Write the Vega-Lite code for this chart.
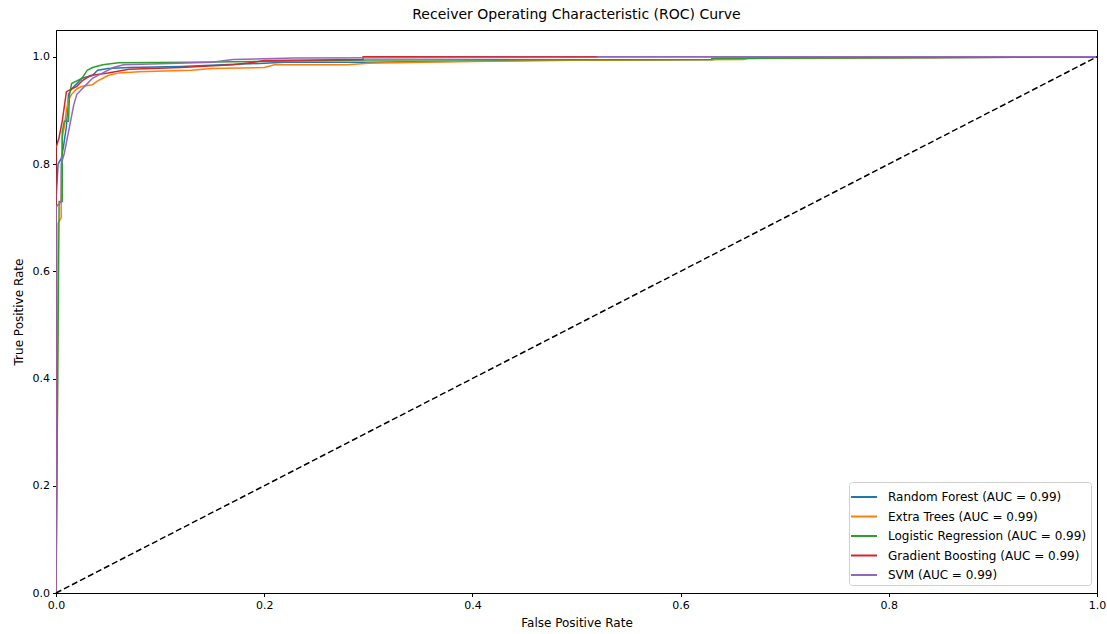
{
  "$schema": "https://vega.github.io/schema/vega-lite/v6.json",
  "width": 1041,
  "height": 563,
  "autosize": {"type": "none"},
  "padding": {"left": 56, "top": 30, "right": 10, "bottom": 41},
  "background": "white",
  "title": {"text": "Receiver Operating Characteristic (ROC) Curve", "font": "DejaVu Sans", "fontSize": 14, "fontWeight": "normal", "color": "black", "offset": 8, "anchor": "middle"},
  "config": {
    "view": {"stroke": "black", "strokeWidth": 1},
    "axis": {"domainColor": "black", "tickColor": "black", "labelColor": "black", "titleColor": "black", "labelFont": "DejaVu Sans", "titleFont": "DejaVu Sans", "labelFontSize": 11, "titleFontSize": 12, "titleFontWeight": "normal", "grid": false, "tickSize": 3.5, "labelPadding": 3, "labelFlush": false}
  },
  "datasets": {
    "roc": [
      {"model": "Random Forest (AUC = 0.99)", "i": 0, "fpr": 0, "tpr": 0},
      {"model": "Random Forest (AUC = 0.99)", "i": 1, "fpr": 0, "tpr": 0.73},
      {"model": "Random Forest (AUC = 0.99)", "i": 2, "fpr": 0.002, "tpr": 0.8},
      {"model": "Random Forest (AUC = 0.99)", "i": 3, "fpr": 0.005, "tpr": 0.81},
      {"model": "Random Forest (AUC = 0.99)", "i": 4, "fpr": 0.007, "tpr": 0.83},
      {"model": "Random Forest (AUC = 0.99)", "i": 5, "fpr": 0.01, "tpr": 0.87},
      {"model": "Random Forest (AUC = 0.99)", "i": 6, "fpr": 0.012, "tpr": 0.93},
      {"model": "Random Forest (AUC = 0.99)", "i": 7, "fpr": 0.015, "tpr": 0.94},
      {"model": "Random Forest (AUC = 0.99)", "i": 8, "fpr": 0.02, "tpr": 0.95},
      {"model": "Random Forest (AUC = 0.99)", "i": 9, "fpr": 0.025, "tpr": 0.96},
      {"model": "Random Forest (AUC = 0.99)", "i": 10, "fpr": 0.035, "tpr": 0.965},
      {"model": "Random Forest (AUC = 0.99)", "i": 11, "fpr": 0.04, "tpr": 0.975},
      {"model": "Random Forest (AUC = 0.99)", "i": 12, "fpr": 0.05, "tpr": 0.978},
      {"model": "Random Forest (AUC = 0.99)", "i": 13, "fpr": 0.07, "tpr": 0.98},
      {"model": "Random Forest (AUC = 0.99)", "i": 14, "fpr": 0.12, "tpr": 0.982},
      {"model": "Random Forest (AUC = 0.99)", "i": 15, "fpr": 0.16, "tpr": 0.985},
      {"model": "Random Forest (AUC = 0.99)", "i": 16, "fpr": 0.2, "tpr": 0.988},
      {"model": "Random Forest (AUC = 0.99)", "i": 17, "fpr": 0.22, "tpr": 0.99},
      {"model": "Random Forest (AUC = 0.99)", "i": 18, "fpr": 0.3, "tpr": 0.99},
      {"model": "Random Forest (AUC = 0.99)", "i": 19, "fpr": 0.41, "tpr": 0.992},
      {"model": "Random Forest (AUC = 0.99)", "i": 20, "fpr": 0.52, "tpr": 0.994},
      {"model": "Random Forest (AUC = 0.99)", "i": 21, "fpr": 0.632, "tpr": 0.995},
      {"model": "Random Forest (AUC = 0.99)", "i": 22, "fpr": 0.632, "tpr": 0.997},
      {"model": "Random Forest (AUC = 0.99)", "i": 23, "fpr": 1, "tpr": 1},

      {"model": "Extra Trees (AUC = 0.99)", "i": 0, "fpr": 0, "tpr": 0},
      {"model": "Extra Trees (AUC = 0.99)", "i": 1, "fpr": 0.001, "tpr": 0.2},
      {"model": "Extra Trees (AUC = 0.99)", "i": 2, "fpr": 0.002, "tpr": 0.69},
      {"model": "Extra Trees (AUC = 0.99)", "i": 3, "fpr": 0.005, "tpr": 0.7},
      {"model": "Extra Trees (AUC = 0.99)", "i": 4, "fpr": 0.005, "tpr": 0.74},
      {"model": "Extra Trees (AUC = 0.99)", "i": 5, "fpr": 0.006, "tpr": 0.85},
      {"model": "Extra Trees (AUC = 0.99)", "i": 6, "fpr": 0.008, "tpr": 0.87},
      {"model": "Extra Trees (AUC = 0.99)", "i": 7, "fpr": 0.01, "tpr": 0.9},
      {"model": "Extra Trees (AUC = 0.99)", "i": 8, "fpr": 0.012, "tpr": 0.92},
      {"model": "Extra Trees (AUC = 0.99)", "i": 9, "fpr": 0.015, "tpr": 0.93},
      {"model": "Extra Trees (AUC = 0.99)", "i": 10, "fpr": 0.02, "tpr": 0.94},
      {"model": "Extra Trees (AUC = 0.99)", "i": 11, "fpr": 0.025, "tpr": 0.945},
      {"model": "Extra Trees (AUC = 0.99)", "i": 12, "fpr": 0.035, "tpr": 0.948},
      {"model": "Extra Trees (AUC = 0.99)", "i": 13, "fpr": 0.04, "tpr": 0.955},
      {"model": "Extra Trees (AUC = 0.99)", "i": 14, "fpr": 0.045, "tpr": 0.96},
      {"model": "Extra Trees (AUC = 0.99)", "i": 15, "fpr": 0.05, "tpr": 0.965},
      {"model": "Extra Trees (AUC = 0.99)", "i": 16, "fpr": 0.06, "tpr": 0.97},
      {"model": "Extra Trees (AUC = 0.99)", "i": 17, "fpr": 0.08, "tpr": 0.972},
      {"model": "Extra Trees (AUC = 0.99)", "i": 18, "fpr": 0.13, "tpr": 0.975},
      {"model": "Extra Trees (AUC = 0.99)", "i": 19, "fpr": 0.15, "tpr": 0.978},
      {"model": "Extra Trees (AUC = 0.99)", "i": 20, "fpr": 0.2, "tpr": 0.98},
      {"model": "Extra Trees (AUC = 0.99)", "i": 21, "fpr": 0.21, "tpr": 0.985},
      {"model": "Extra Trees (AUC = 0.99)", "i": 22, "fpr": 0.28, "tpr": 0.985},
      {"model": "Extra Trees (AUC = 0.99)", "i": 23, "fpr": 0.3, "tpr": 0.988},
      {"model": "Extra Trees (AUC = 0.99)", "i": 24, "fpr": 0.35, "tpr": 0.99},
      {"model": "Extra Trees (AUC = 0.99)", "i": 25, "fpr": 0.46, "tpr": 0.993},
      {"model": "Extra Trees (AUC = 0.99)", "i": 26, "fpr": 0.66, "tpr": 0.995},
      {"model": "Extra Trees (AUC = 0.99)", "i": 27, "fpr": 0.665, "tpr": 0.997},
      {"model": "Extra Trees (AUC = 0.99)", "i": 28, "fpr": 1, "tpr": 1},

      {"model": "Logistic Regression (AUC = 0.99)", "i": 0, "fpr": 0, "tpr": 0},
      {"model": "Logistic Regression (AUC = 0.99)", "i": 1, "fpr": 0.003, "tpr": 0.73},
      {"model": "Logistic Regression (AUC = 0.99)", "i": 2, "fpr": 0.006, "tpr": 0.73},
      {"model": "Logistic Regression (AUC = 0.99)", "i": 3, "fpr": 0.006, "tpr": 0.86},
      {"model": "Logistic Regression (AUC = 0.99)", "i": 4, "fpr": 0.008, "tpr": 0.88},
      {"model": "Logistic Regression (AUC = 0.99)", "i": 5, "fpr": 0.012, "tpr": 0.88},
      {"model": "Logistic Regression (AUC = 0.99)", "i": 6, "fpr": 0.013, "tpr": 0.93},
      {"model": "Logistic Regression (AUC = 0.99)", "i": 7, "fpr": 0.015, "tpr": 0.95},
      {"model": "Logistic Regression (AUC = 0.99)", "i": 8, "fpr": 0.02, "tpr": 0.955},
      {"model": "Logistic Regression (AUC = 0.99)", "i": 9, "fpr": 0.025, "tpr": 0.96},
      {"model": "Logistic Regression (AUC = 0.99)", "i": 10, "fpr": 0.03, "tpr": 0.975},
      {"model": "Logistic Regression (AUC = 0.99)", "i": 11, "fpr": 0.035, "tpr": 0.98},
      {"model": "Logistic Regression (AUC = 0.99)", "i": 12, "fpr": 0.045, "tpr": 0.985},
      {"model": "Logistic Regression (AUC = 0.99)", "i": 13, "fpr": 0.06, "tpr": 0.989},
      {"model": "Logistic Regression (AUC = 0.99)", "i": 14, "fpr": 0.13, "tpr": 0.99},
      {"model": "Logistic Regression (AUC = 0.99)", "i": 15, "fpr": 0.3, "tpr": 0.994},
      {"model": "Logistic Regression (AUC = 0.99)", "i": 16, "fpr": 0.63, "tpr": 0.995},
      {"model": "Logistic Regression (AUC = 0.99)", "i": 17, "fpr": 0.63, "tpr": 0.997},
      {"model": "Logistic Regression (AUC = 0.99)", "i": 18, "fpr": 1, "tpr": 1},

      {"model": "Gradient Boosting (AUC = 0.99)", "i": 0, "fpr": 0, "tpr": 0},
      {"model": "Gradient Boosting (AUC = 0.99)", "i": 1, "fpr": 0, "tpr": 0.83},
      {"model": "Gradient Boosting (AUC = 0.99)", "i": 2, "fpr": 0.003, "tpr": 0.85},
      {"model": "Gradient Boosting (AUC = 0.99)", "i": 3, "fpr": 0.006, "tpr": 0.88},
      {"model": "Gradient Boosting (AUC = 0.99)", "i": 4, "fpr": 0.01, "tpr": 0.935},
      {"model": "Gradient Boosting (AUC = 0.99)", "i": 5, "fpr": 0.02, "tpr": 0.945},
      {"model": "Gradient Boosting (AUC = 0.99)", "i": 6, "fpr": 0.025, "tpr": 0.955},
      {"model": "Gradient Boosting (AUC = 0.99)", "i": 7, "fpr": 0.033, "tpr": 0.965},
      {"model": "Gradient Boosting (AUC = 0.99)", "i": 8, "fpr": 0.05, "tpr": 0.97},
      {"model": "Gradient Boosting (AUC = 0.99)", "i": 9, "fpr": 0.07, "tpr": 0.977},
      {"model": "Gradient Boosting (AUC = 0.99)", "i": 10, "fpr": 0.12, "tpr": 0.98},
      {"model": "Gradient Boosting (AUC = 0.99)", "i": 11, "fpr": 0.17, "tpr": 0.985},
      {"model": "Gradient Boosting (AUC = 0.99)", "i": 12, "fpr": 0.19, "tpr": 0.99},
      {"model": "Gradient Boosting (AUC = 0.99)", "i": 13, "fpr": 0.2, "tpr": 0.993},
      {"model": "Gradient Boosting (AUC = 0.99)", "i": 14, "fpr": 0.295, "tpr": 0.995},
      {"model": "Gradient Boosting (AUC = 0.99)", "i": 15, "fpr": 0.295, "tpr": 1},
      {"model": "Gradient Boosting (AUC = 0.99)", "i": 16, "fpr": 1, "tpr": 1},

      {"model": "SVM (AUC = 0.99)", "i": 0, "fpr": 0, "tpr": 0},
      {"model": "SVM (AUC = 0.99)", "i": 1, "fpr": 0, "tpr": 0.72},
      {"model": "SVM (AUC = 0.99)", "i": 2, "fpr": 0.005, "tpr": 0.73},
      {"model": "SVM (AUC = 0.99)", "i": 3, "fpr": 0.005, "tpr": 0.8},
      {"model": "SVM (AUC = 0.99)", "i": 4, "fpr": 0.008, "tpr": 0.82},
      {"model": "SVM (AUC = 0.99)", "i": 5, "fpr": 0.01, "tpr": 0.84},
      {"model": "SVM (AUC = 0.99)", "i": 6, "fpr": 0.012, "tpr": 0.86},
      {"model": "SVM (AUC = 0.99)", "i": 7, "fpr": 0.015, "tpr": 0.89},
      {"model": "SVM (AUC = 0.99)", "i": 8, "fpr": 0.017, "tpr": 0.91},
      {"model": "SVM (AUC = 0.99)", "i": 9, "fpr": 0.02, "tpr": 0.93},
      {"model": "SVM (AUC = 0.99)", "i": 10, "fpr": 0.025, "tpr": 0.94},
      {"model": "SVM (AUC = 0.99)", "i": 11, "fpr": 0.03, "tpr": 0.95},
      {"model": "SVM (AUC = 0.99)", "i": 12, "fpr": 0.035, "tpr": 0.96},
      {"model": "SVM (AUC = 0.99)", "i": 13, "fpr": 0.045, "tpr": 0.97},
      {"model": "SVM (AUC = 0.99)", "i": 14, "fpr": 0.055, "tpr": 0.98},
      {"model": "SVM (AUC = 0.99)", "i": 15, "fpr": 0.065, "tpr": 0.985},
      {"model": "SVM (AUC = 0.99)", "i": 16, "fpr": 0.1, "tpr": 0.987},
      {"model": "SVM (AUC = 0.99)", "i": 17, "fpr": 0.15, "tpr": 0.99},
      {"model": "SVM (AUC = 0.99)", "i": 18, "fpr": 0.17, "tpr": 0.995},
      {"model": "SVM (AUC = 0.99)", "i": 19, "fpr": 0.23, "tpr": 0.998},
      {"model": "SVM (AUC = 0.99)", "i": 20, "fpr": 0.52, "tpr": 0.999},
      {"model": "SVM (AUC = 0.99)", "i": 21, "fpr": 0.52, "tpr": 1},
      {"model": "SVM (AUC = 0.99)", "i": 22, "fpr": 1, "tpr": 1}
    ],
    "diag": [
      {"fpr": 0, "tpr": 0},
      {"fpr": 1, "tpr": 1}
    ]
  },
  "layer": [
    {
      "data": {"name": "roc"},
      "mark": {"type": "line", "strokeWidth": 1.5, "clip": true},
      "encoding": {
        "x": {"field": "fpr", "type": "quantitative", "scale": {"domain": [0, 1], "nice": false, "zero": false}, "axis": {"title": "False Positive Rate", "values": [0, 0.2, 0.4, 0.6, 0.8, 1.0], "format": ".1f", "titlePadding": 7}},
        "y": {"field": "tpr", "type": "quantitative", "scale": {"domain": [0, 1.05], "nice": false, "zero": false}, "axis": {"title": "True Positive Rate", "values": [0, 0.2, 0.4, 0.6, 0.8, 1.0], "format": ".1f", "titlePadding": 7}},
        "color": {
          "field": "model", "type": "nominal",
          "scale": {
            "domain": ["Random Forest (AUC = 0.99)", "Extra Trees (AUC = 0.99)", "Logistic Regression (AUC = 0.99)", "Gradient Boosting (AUC = 0.99)", "SVM (AUC = 0.99)"],
            "range": ["#1f77b4", "#ff7f0e", "#2ca02c", "#d62728", "#9467bd"]
          },
          "legend": {
            "title": null, "orient": "none", "legendX": 793, "legendY": 452,
            "symbolType": "M-1.3,0H1.3", "symbolSize": 400, "symbolStrokeWidth": 2,
            "labelFont": "DejaVu Sans", "labelFontSize": 12, "labelColor": "black", "labelLimit": 400,
            "rowPadding": 2.5, "padding": 4, "strokeColor": "#d0d0d0", "cornerRadius": 3, "fillColor": "white",
            "labelOffset": 13
          }
        },
        "order": {"field": "i", "type": "quantitative"}
      }
    },
    {
      "data": {"name": "diag"},
      "mark": {"type": "line", "color": "black", "strokeWidth": 1.5, "strokeDash": [6, 3]},
      "encoding": {
        "x": {"field": "fpr", "type": "quantitative"},
        "y": {"field": "tpr", "type": "quantitative"}
      }
    }
  ]
}
